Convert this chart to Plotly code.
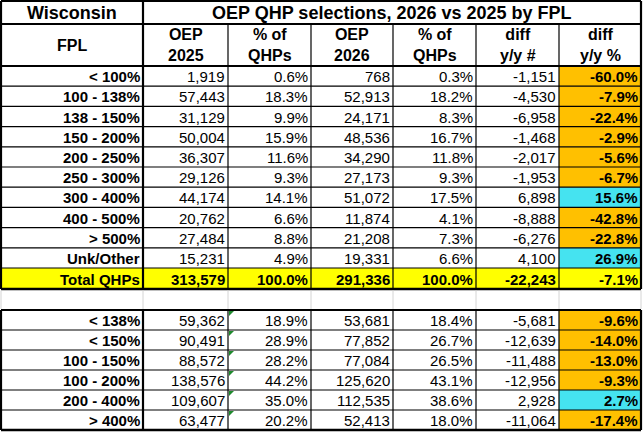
import plotly.graph_objects as go

# --- data (Wisconsin OEP QHP selections by FPL) ---
fpl_labels = ["< 100%", "100 - 138%", "138 - 150%", "150 - 200%", "200 - 250%",
              "250 - 300%", "300 - 400%", "400 - 500%", "> 500%", "Unk/Other"]
oep_2025 = [1919, 57443, 31129, 50004, 36307, 29126, 44174, 20762, 27484, 15231]
pct_2025 = [0.6, 18.3, 9.9, 15.9, 11.6, 9.3, 14.1, 6.6, 8.8, 4.9]
oep_2026 = [768, 52913, 24171, 48536, 34290, 27173, 51072, 11874, 21208, 19331]
pct_2026 = [0.3, 18.2, 8.3, 16.7, 11.8, 9.3, 17.5, 4.1, 7.3, 6.6]
diff_num = [-1151, -4530, -6958, -1468, -2017, -1953, 6898, -8888, -6276, 4100]
diff_pct = [-60.0, -7.9, -22.4, -2.9, -5.6, -6.7, 15.6, -42.8, -22.8, 26.9]

total_label = "Total QHPs"
total_vals = [313579, 100.0, 291336, 100.0, -22243, -7.1]

grp_labels = ["< 138%", "< 150%", "100 - 150%", "100 - 200%", "200 - 400%", "> 400%"]
grp_2025 = [59362, 90491, 88572, 138576, 109607, 63477]
grp_pct_2025 = [18.9, 28.9, 28.2, 44.2, 35.0, 20.2]
grp_2026 = [53681, 77852, 77084, 125620, 112535, 52413]
grp_pct_2026 = [18.4, 26.7, 26.5, 43.1, 38.6, 18.0]
grp_diff = [-5681, -12639, -11488, -12956, 2928, -11064]
grp_diff_pct = [-9.6, -14.0, -13.0, -9.3, 2.7, -17.4]

title_left = "Wisconsin"
title_right = "OEP QHP selections, 2026 vs 2025 by FPL"
headers = ["FPL", "OEP<br>2025", "% of<br>QHPs", "OEP<br>2026", "% of<br>QHPs",
           "diff<br>y/y #", "diff<br>y/y %"]

# --- layout of the grid ---
W, H = 643, 432
col_x = [1, 143, 228, 311, 393, 476, 559, 641]
title_y = (1, 24)
head_y = (24, 66)
body_top, body_h = 66, 20.2
total_y = (268, 289)
blank_y = (289, 310)
grp_top, grp_h = 310, 20
bottom = grp_top + grp_h * len(grp_labels)

ORANGE = "#FFC000"
CYAN = "#45E3F0"
YELLOW = "#FFFF00"
GREEN = "#1F8A2E"
FONT = "Arial, Liberation Sans, sans-serif"


def fmt_n(v):
    return f"{v:,}"


def fmt_p(v):
    return f"{v:.1f}%"


def row_cells(label, a, pa, b, pb, d, dp):
    return [label, fmt_n(a), fmt_p(pa), fmt_n(b), fmt_p(pb), fmt_n(d), fmt_p(dp)]


rows = []
for i in range(len(fpl_labels)):
    y0 = body_top + i * body_h
    rows.append(dict(y0=y0, y1=y0 + body_h, total=False, dp=diff_pct[i], green=False,
                     cells=row_cells(fpl_labels[i], oep_2025[i], pct_2025[i], oep_2026[i],
                                     pct_2026[i], diff_num[i], diff_pct[i])))
rows.append(dict(y0=total_y[0], y1=total_y[1], total=True, dp=total_vals[5], green=False,
                 cells=row_cells(total_label, *total_vals)))
for i in range(len(grp_labels)):
    y0 = grp_top + i * grp_h
    rows.append(dict(y0=y0, y1=y0 + grp_h, total=False, dp=grp_diff_pct[i], green=True,
                     cells=row_cells(grp_labels[i], grp_2025[i], grp_pct_2025[i], grp_2026[i],
                                     grp_pct_2026[i], grp_diff[i], grp_diff_pct[i])))

shapes = []
annotations = []


def hline(y, x0, x1, w=1.0, color="black"):
    shapes.append(dict(type="line", x0=x0, x1=x1, y0=y, y1=y, xref="x", yref="y",
                       line=dict(color=color, width=w), layer="above"))


def vline(x, y0, y1, w=1.0, color="black"):
    shapes.append(dict(type="line", x0=x, x1=x, y0=y0, y1=y1, xref="x", yref="y",
                       line=dict(color=color, width=w), layer="above"))


# cell fills
for r in rows:
    if r["total"]:
        shapes.append(dict(type="rect", x0=col_x[0], x1=col_x[-1], y0=r["y0"], y1=r["y1"],
                           fillcolor=YELLOW, line=dict(width=0), layer="below"))
    else:
        shapes.append(dict(type="rect", x0=col_x[6], x1=col_x[7], y0=r["y0"], y1=r["y1"],
                           fillcolor=ORANGE if r["dp"] < 0 else CYAN,
                           line=dict(width=0), layer="below"))

# titles
annotations.append(dict(x=(col_x[0] + col_x[1]) / 2, y=sum(title_y) / 2, text=f"<b>{title_left}</b>",
                        showarrow=False, xanchor="center", yanchor="middle",
                        font=dict(size=18, family=FONT, color="black")))
annotations.append(dict(x=(col_x[1] + col_x[-1]) / 2, y=sum(title_y) / 2, text=f"<b>{title_right}</b>",
                        showarrow=False, xanchor="center", yanchor="middle",
                        font=dict(size=18, family=FONT, color="black")))

# header
for c, h in enumerate(headers):
    annotations.append(dict(x=(col_x[c] + col_x[c + 1]) / 2, y=sum(head_y) / 2, text=f"<b>{h}</b>",
                            showarrow=False, xanchor="center", yanchor="middle",
                            font=dict(size=16, family=FONT, color="black")))

# body text
for r in rows:
    for c, txt in enumerate(r["cells"]):
        bold = c == 0 or c == 6 or r["total"]
        annotations.append(dict(x=col_x[c + 1] - 1.5, y=(r["y0"] + r["y1"]) / 2 + 0.5,
                                text=f"<b>{txt}</b>" if bold else txt,
                                showarrow=False, xanchor="right", yanchor="middle",
                                font=dict(size=15, family=FONT, color="black")))
    if r["green"]:
        x0, y0 = col_x[2] + 1, r["y0"] + 1
        shapes.append(dict(type="path", path=f"M {x0},{y0} L {x0 + 5},{y0} L {x0},{y0 + 5} Z",
                           fillcolor=GREEN, line=dict(width=0), layer="above"))

# grid lines
THICK, THIN = 2.2, 1.2
# title row
hline(title_y[0], col_x[0], col_x[-1], THICK)
hline(title_y[1], col_x[0], col_x[-1], THICK)
vline(col_x[1], title_y[0], title_y[1], THICK)
# header
hline(head_y[1], col_x[0], col_x[-1], THICK)
for x in col_x[2:-1]:
    vline(x, head_y[0], head_y[1], THIN)
vline(col_x[1], head_y[0], head_y[1], THICK)
# data rows
for r in rows:
    hline(r["y1"], col_x[0], col_x[-1], THIN)
for x in col_x[2:-1]:
    vline(x, head_y[1], total_y[1], THIN)
    vline(x, grp_top, bottom, THIN)
vline(col_x[1], head_y[1], total_y[1], THICK)
vline(col_x[1], grp_top, bottom, THICK)
hline(total_y[1], col_x[0], col_x[-1], 2.6)
# blank spacer row
for x in col_x:
    vline(x, blank_y[0] + 1.5, blank_y[1] - 1, 1, "#D4D4D4")
hline(grp_top, col_x[0], col_x[-1], THICK)
# outer border
for x in (col_x[0], col_x[-1]):
    vline(x, title_y[0], total_y[1], THICK)
    vline(x, grp_top, bottom, THICK)
hline(bottom, col_x[0], col_x[-1], 2.6)

fig = go.Figure()
fig.add_trace(go.Scatter(x=[0, W], y=[0, H], mode="markers", marker=dict(opacity=0),
                         hoverinfo="skip", showlegend=False))
fig.update_layout(
    width=W, height=H,
    margin=dict(l=0, r=0, t=0, b=0),
    paper_bgcolor="white", plot_bgcolor="white",
    xaxis=dict(range=[0, W], visible=False, fixedrange=True),
    yaxis=dict(range=[H, 0], visible=False, fixedrange=True),
    shapes=shapes, annotations=annotations, showlegend=False,
)
# drop the page's default body margin so the 643x432 figure fills the window
fig.write_html("out.html", config={"displayModeBar": False},
               post_script="document.body.style.margin='0';document.body.style.overflow='hidden';")
